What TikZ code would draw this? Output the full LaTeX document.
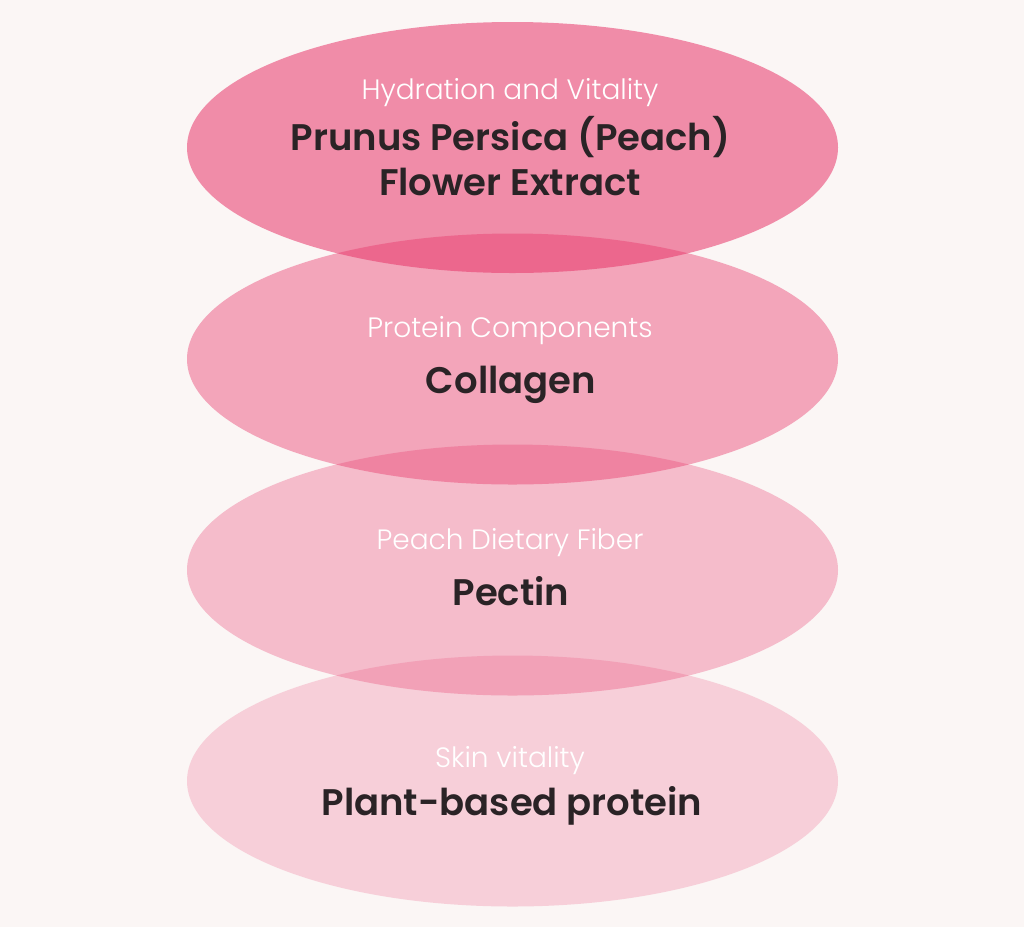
\documentclass[tikz,border=0pt]{standalone}
\usepackage{fontspec}
\setmainfont{Poppins}
\newfontfamily\lightfont{Poppins Light}
\newfontfamily\semifont{Poppins SemiBold}
\usetikzlibrary{shapes.geometric}
\definecolor{bg}{HTML}{FBF6F5}
\definecolor{petal}{HTML}{E8366A}
\definecolor{ink}{HTML}{2A2326}
\tikzset{
  petalbox/.style={ellipse, draw=none, fill=petal, inner sep=0pt,
    minimum width=651pt, minimum height=251pt},
  subtitle/.style={text=white, font=\lightfont\fontsize{28}{34}\selectfont, inner sep=0pt, anchor=base},
  title/.style={text=ink, font=\semifont\fontsize{37}{45}\selectfont, inner sep=0pt, anchor=base}
}
\begin{document}
\begin{tikzpicture}[x=1pt,y=-1pt]
\fill[bg] (0,0) rectangle (1024,927);
\useasboundingbox (0,0) rectangle (1024,927);
\node[petalbox, fill opacity=0.55] (e1) at (512.5,147.5) {};
\node[petalbox, fill opacity=0.42] (e2) at (512.5,359) {};
\node[petalbox, fill opacity=0.30] (e3) at (512.5,570) {};
\node[petalbox, fill opacity=0.20] (e4) at (512.5,781) {};
\node[subtitle] (s1) at (510,99) {Hydration and Vitality};
\node[title] (t1a) at (510.5,150) {Prunus Persica (Peach)};
\node[title] (t1b) at (510,195) {Flower Extract};
\node[subtitle] (s2) at (510,337) {Protein Components};
\node[title] (t2) at (511,393) {Collagen};
\node[subtitle] (s3) at (510,549) {Peach Dietary Fiber};
\node[title] (t3) at (511,605) {Pectin};
\node[subtitle] (s4) at (510,767) {Skin vitality};
\node[title] (t4) at (512,815) {Plant-based protein};
\end{tikzpicture}
\end{document}
